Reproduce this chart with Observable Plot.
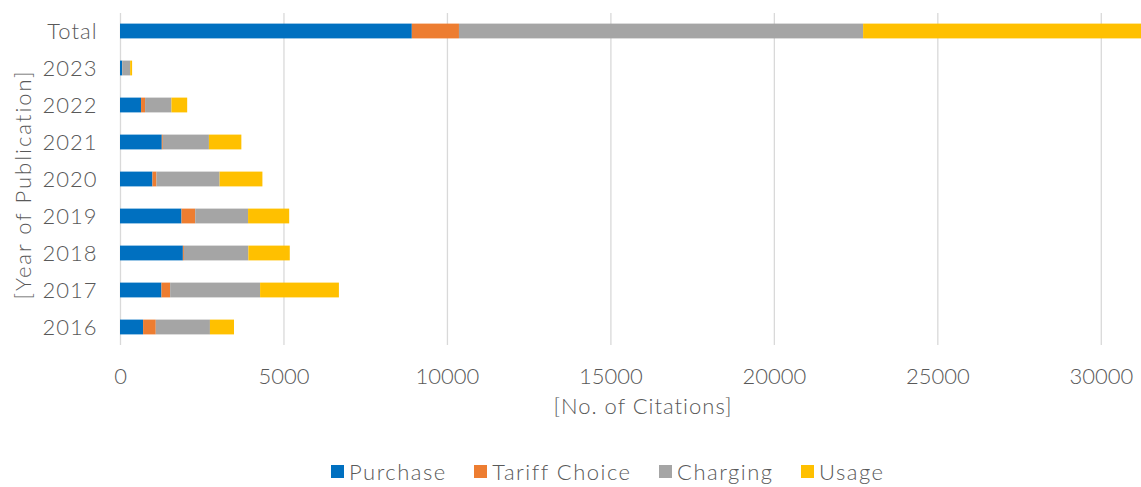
<!DOCTYPE html>
<html>
<head>
<meta charset="utf-8">
<script src="https://cdn.jsdelivr.net/npm/d3@7"></script>
<script src="https://cdn.jsdelivr.net/npm/@observablehq/plot@0.6"></script>
<style>
  html, body { margin: 0; padding: 0; background: #fff; }
  #chart { width: 1141px; }
  #chart svg text { letter-spacing: 1px; }
  #chart svg g[aria-label="x-axis tick label"] text { letter-spacing: 0; }
  #chart svg g.ytitle text { letter-spacing: 2px; }
  .lg-swatches-wrap { justify-content: flex-start !important; padding-left: 331px; min-height: 32px !important; margin-top: 15px; }
  .lg-swatch { margin-right: 27.5px !important; color: #595959; letter-spacing: 1.5px; font-weight: 300; }
  .lg-swatch > svg { margin-right: 5px !important; }
</style>
</head>
<body>
<div id="chart"></div>
<script>
const years = ["Total", "2023", "2022", "2021", "2020", "2019", "2018", "2017", "2016"];
const series = ["Purchase", "Tariff Choice", "Charging", "Usage"];
const seriesColors = ["#0070C0", "#ED7D31", "#A5A5A5", "#FFC000"];
const purchase = [8926, 70, 644, 1278, 992, 1881, 1923, 1268, 706];
const tariffChoice = [1442, 8, 123, 31, 123, 420, 31, 266, 388];
const charging = [12362, 232, 807, 1411, 1932, 1616, 1972, 2751, 1657];
const usage = [8500, 60, 481, 992, 1309, 1258, 1267, 2411, 736];
const xTicks = [0, 5000, 10000, 15000, 20000, 25000, 30000];
const xMax = 31230;
const xTitle = "[No. of Citations]";
const yTitle = "[Year of Publication]";

const valuesBySeries = [purchase, tariffChoice, charging, usage];
const data = [];
years.forEach((y, i) => {
  series.forEach((s, j) => {
    data.push({year: y, series: s, value: valuesBySeries[j][i]});
  });
});

const textColor = "#595959";
const font = "Lato, 'Open Sans', sans-serif";

const plot = Plot.plot({
  width: 1141,
  height: 440,
  marginLeft: 120,
  marginRight: 0,
  marginTop: 13,
  marginBottom: 95,
  style: {fontFamily: font, fontSize: "22px", fontWeight: 300, color: textColor, background: "#fff"},
  x: {domain: [0, xMax]},
  y: {domain: years, paddingInner: 0.6, paddingOuter: 0.2865, round: false},
  color: {domain: series, range: seriesColors},
  marks: [
    Plot.gridX(xTicks, {stroke: "#d9d9d9", strokeOpacity: 1, strokeWidth: 1.3}),
    Plot.barX(data, {y: "year", x: "value", fill: "series"}),
    Plot.axisX({ticks: xTicks, tickSize: 0, tickPadding: 23, tickFormat: d => String(d), label: null, fontSize: 22}),
    Plot.axisY({tickSize: 0, tickPadding: 23, label: null, fontSize: 22}),
    Plot.text([xTitle], {text: d => d, frameAnchor: "bottom", dy: 68, dx: 12, fontSize: 22, fill: textColor}),
    Plot.text([yTitle], {text: d => d, frameAnchor: "left", textAnchor: "middle", rotate: -90, dx: -97, dy: 5, fontSize: 22, fill: textColor, className: "ytitle"})
  ]
});

const yt = plot.querySelectorAll("g[aria-label='text']");
if (yt.length) yt[yt.length - 1].classList.add("ytitle");

const legend = Plot.legend({
  color: {type: "ordinal", domain: series, range: seriesColors},
  legend: "swatches",
  swatchSize: 13,
  className: "lg",
  style: {fontFamily: font, fontSize: "22px", color: textColor}
});

const el = document.getElementById("chart");
el.appendChild(plot);
el.appendChild(legend);
</script>
</body>
</html>
